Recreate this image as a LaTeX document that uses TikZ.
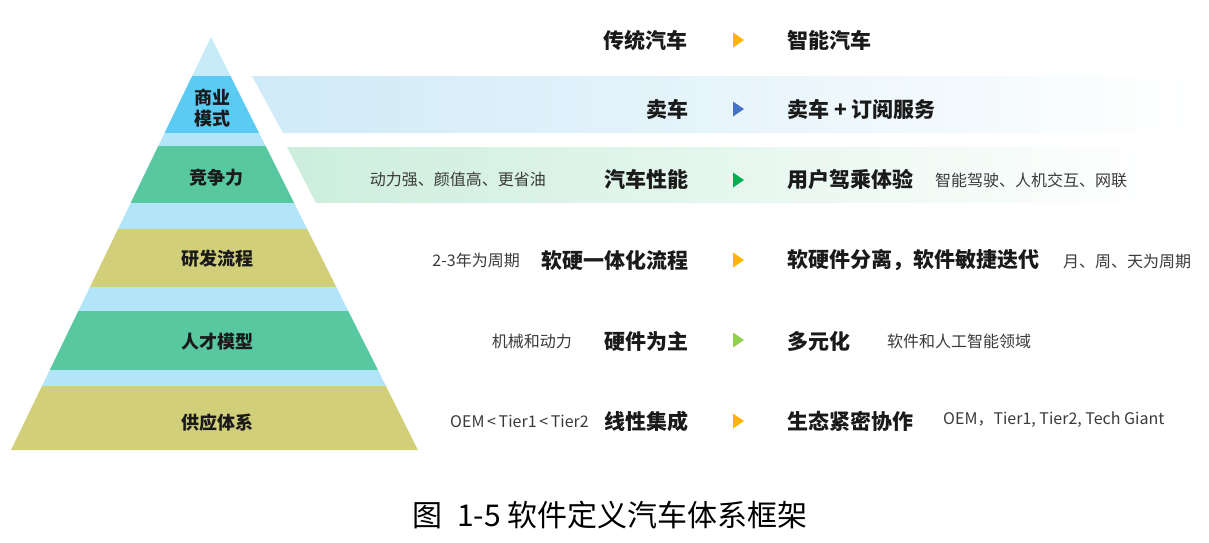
\documentclass[tikz,border=0pt]{standalone}
\usepackage{fontspec}
\usepackage{xcolor}
\setmainfont{Noto Sans CJK SC}
\usetikzlibrary{positioning}
\newcommand{\rowfnt}{\fontsize{21pt}{24pt}\selectfont}
\newcommand{\notefnt}{\fontsize{16pt}{18pt}\selectfont}
\newcommand{\layerfnt}{\fontsize{18pt}{21pt}\selectfont}
\newcommand{\capfnt}{\fontsize{30pt}{32pt}\selectfont}
\definecolor{inkdark}{HTML}{1A1A1A}
\definecolor{inknote}{HTML}{3A3A3A}
\definecolor{capblue}{HTML}{C8EBF8}
\definecolor{gapblue}{HTML}{B2E5F7}
\definecolor{bizblue}{HTML}{5CCBF3}
\definecolor{tealgreen}{HTML}{58C8A0}
\definecolor{khaki}{HTML}{D2CF7B}
\definecolor{bandblue}{HTML}{CFEAF7}
\definecolor{bandgreen}{HTML}{CCEEDD}
\definecolor{tiporange}{HTML}{FFB400}
\definecolor{tipblue}{HTML}{4472C4}
\definecolor{tipgreen}{HTML}{00B050}
\definecolor{tiplime}{HTML}{92D050}
\begin{document}
\begin{tikzpicture}[
  x=1pt,
  y=-1pt,
  every node/.style={inner sep=0pt, inkdark},
  layer/.style={font=\layerfnt\bfseries, align=center},
  oldtext/.style={anchor=east, font=\rowfnt\bfseries},
  newtext/.style={anchor=west, font=\rowfnt\bfseries},
  notetext/.style={font=\notefnt, inknote}
]
  \useasboundingbox (0,0) rectangle (1209,542);

  % ---- bands behind the two top rows ----
  \shade[left color=bandblue, right color=white]
    (252,76) -- (1192,76) -- (1192,133) -- (283,133) -- cycle;
  \shade[left color=bandgreen, right color=white]
    (287,147) -- (1160,147) -- (1160,203) -- (316,203) -- cycle;

  % ---- pyramid ----
  \begin{scope}
    \clip (211,37) -- (418,450) -- (11,450) -- cycle;
    \fill[capblue] (0,30) rectangle (430,76);
    \fill[bizblue] (0,76) rectangle (430,133);
    \fill[gapblue] (0,133) rectangle (430,146);
    \fill[tealgreen] (0,146) rectangle (430,203);
    \fill[gapblue] (0,203) rectangle (430,229);
    \fill[khaki] (0,229) rectangle (430,287);
    \fill[gapblue] (0,287) rectangle (430,311);
    \fill[tealgreen] (0,311) rectangle (430,370);
    \fill[gapblue] (0,370) rectangle (430,386);
    \fill[khaki] (0,386) rectangle (430,451);
  \end{scope}

  % ---- pyramid labels ----
  \node[layer] (biz) at (212,108) {商业\\模式};
  \node[layer] (comp) at (216,178) {竞争力};
  \node[layer] (rnd) at (217,259) {研发流程};
  \node[layer] (talent) at (217,342) {人才模型};
  \node[layer] (supply) at (217,423) {供应体系};

  % ---- old / new ----
  \node[oldtext] (old0) at (688,40) {传统汽车};
  \node[newtext] (new0) at (787,40) {智能汽车};
  \node[oldtext] (old1) at (689,109) {卖车};
  \node[newtext] (new1) at (787,109) {卖车 + 订阅服务};
  \node[oldtext] (old2) at (689,179) {汽车性能};
  \node[newtext] (new2) at (787,179) {用户驾乘体验};
  \node[oldtext] (old3) at (689,260) {软硬一体化流程};
  \node[newtext] (new3) at (787,260) {软硬件分离，软件敏捷迭代};
  \node[oldtext] (old4) at (689,341) {硬件为主};
  \node[newtext] (new4) at (787,341) {多元化};
  \node[oldtext] (old5) at (689,421) {线性集成};
  \node[newtext] (new5) at (787,421) {生态紧密协作};

  % ---- notes ----
  \node[notetext, anchor=east] (oldnote2) at (546,179) {动力强、颜值高、更省油};
  \node[notetext, anchor=west] (newnote2) at (935,180) {智能驾驶、人机交互、网联};
  \node[notetext, anchor=east] (oldnote3) at (520,260) {2-3年为周期};
  \node[notetext, anchor=west] (newnote3) at (1063,261) {月、周、天为周期};
  \node[notetext, anchor=east] (oldnote4) at (572,341) {机械和动力};
  \node[notetext, anchor=west] (newnote4) at (887,341) {软件和人工智能领域};
  \node[notetext, anchor=east] (oldnote5) at (589,421) {OEM\,<\,Tier1\,<\,Tier2};
  \node[notetext, anchor=west] (newnote5) at (943,420) {OEM，Tier1, Tier2, Tech Giant};

  % ---- arrow tips between the columns ----
  \foreach \y/\tip in {40/tiporange, 109/tipblue, 180/tipgreen,
                       260/tiporange, 340/tiplime, 421/tiporange}
    \fill[\tip] (733,\y-7.5) -- (744,\y) -- (733,\y+7.5) -- cycle;

  % ---- caption ----
  \node[font=\capfnt, black] (caption) at (610,515)
    {图\hspace{0.5em}1-5 软件定义汽车体系框架};
\end{tikzpicture}
\end{document}
